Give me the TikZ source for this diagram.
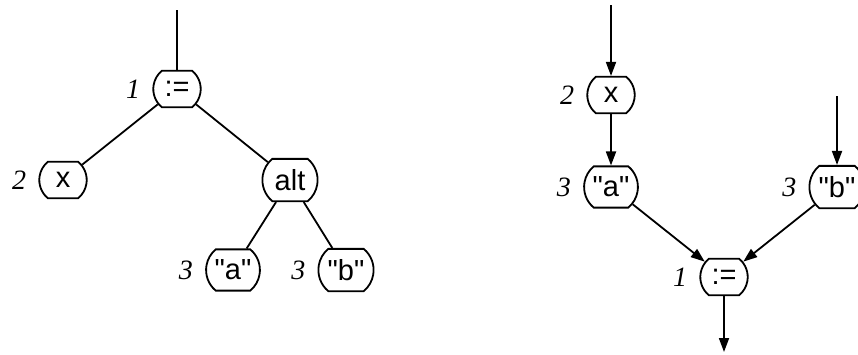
\documentclass[tikz,border=0pt]{standalone}
\usepackage{fontspec}
\newfontfamily\tokfont{Liberation Sans}[Ligatures=TeXOff]
\newfontfamily\numfont{Liberation Serif}
\usetikzlibrary{arrows.meta,shapes.misc}
\tikzset{
  tok/.style={draw,rounded rectangle,rounded rectangle arc length=100,line width=1.8pt,
              minimum width=55pt,inner xsep=4pt,inner ysep=10.5pt,
              font=\tokfont\fontsize{29}{32}\selectfont},
  num/.style={font=\numfont\itshape\fontsize{28}{30}\selectfont,inner sep=0pt},
  wire/.style={line width=1.8pt},
  arr/.style={-{Triangle[length=14pt,width=10pt]},line width=1.8pt}
}

\begin{document}
\begin{tikzpicture}[x=1pt,y=-1pt,label distance=12pt]
    \useasboundingbox (0,0) rectangle (858,354);
    \coordinate (t0) at (177,10);
    \node[tok,label={[num]left:1}] (a1) at (177,89)  {:=};
    \node[tok,label={[num]left:2}] (a2) at (63,180)  {x};
    \node[tok] (alt) at (290,180) {alt};
    \node[tok,label={[num]left:3}] (a3) at (233,270) {"a"};
    \node[tok,label={[num]left:3}] (b3) at (346,270) {"b"};
    \draw[wire] (t0) -- (a1);
    \draw[wire] (a1) -- (a2); \draw[wire] (a1) -- (alt);
    \draw[wire] (alt) -- (a3); \draw[wire] (alt) -- (b3);
    \coordinate (in1) at (611,5);
    \coordinate (in2) at (837,96);
    \coordinate (out) at (724,352);
    \node[tok,label={[num]left:2}] (x2) at (611,95)  {x};
    \node[tok,label={[num]left:3}] (x3) at (611,187) {"a"};
    \node[tok,label={[num]left:3}] (y3) at (837,187) {"b"};
    \node[tok,label={[num]left:1}] (z1) at (724,277) {:=};
    \draw[arr] (in1) -- (x2); \draw[arr] (x2) -- (x3);
    \draw[arr] (in2) -- (y3);
    \draw[arr] (x3) -- (z1); \draw[arr] (y3) -- (z1);
    \draw[arr] (z1) -- (out);
  \end{tikzpicture}
\end{document}
